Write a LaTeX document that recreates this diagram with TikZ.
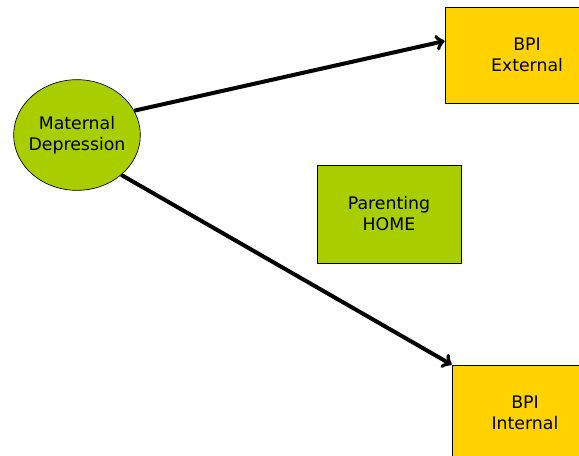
\documentclass[tikz,border=0pt]{standalone}
\usepackage{fontspec}
\setmainfont{DejaVu Sans}
\usetikzlibrary{shapes.geometric}
\definecolor{leaf}{RGB}{168,206,0}
\definecolor{gold}{RGB}{255,210,0}
\tikzset{
  factor/.style={draw=black,line width=0.5pt,fill=leaf,ellipse,align=center,
    minimum width=95pt,minimum height=83pt,inner xsep=-3pt,inner ysep=0pt},
  outcome/.style={draw=black,line width=0.5pt,fill=gold,align=center,
    minimum width=123pt,minimum height=72pt},
  mediator/.style={draw=black,line width=0.5pt,fill=leaf,align=center,
    minimum width=108pt,minimum height=73.5pt},
  path/.style={->,line width=3pt,black}
}
\begin{document}
\begin{tikzpicture}[x=0.75pt,y=-0.75pt]\fontsize{13}{15.75}\selectfont
\useasboundingbox (0,0) rectangle (579,455);
\clip (0,0) rectangle (579,455);
\node[factor] (dep) at (77,135) {Maternal\\Depression};
\node[outcome] (ext) at (527,55) {BPI\\External};
\node[mediator] (home) at (389,214) {Parenting\\HOME};
\node[outcome,minimum width=146*0.75pt] (int) at (525,413) {BPI\\Internal};
\draw[path] (dep.23) -- (ext.west|-0,41);
\draw[path] (dep.-42) -- (int.north west);
\end{tikzpicture}
\end{document}
